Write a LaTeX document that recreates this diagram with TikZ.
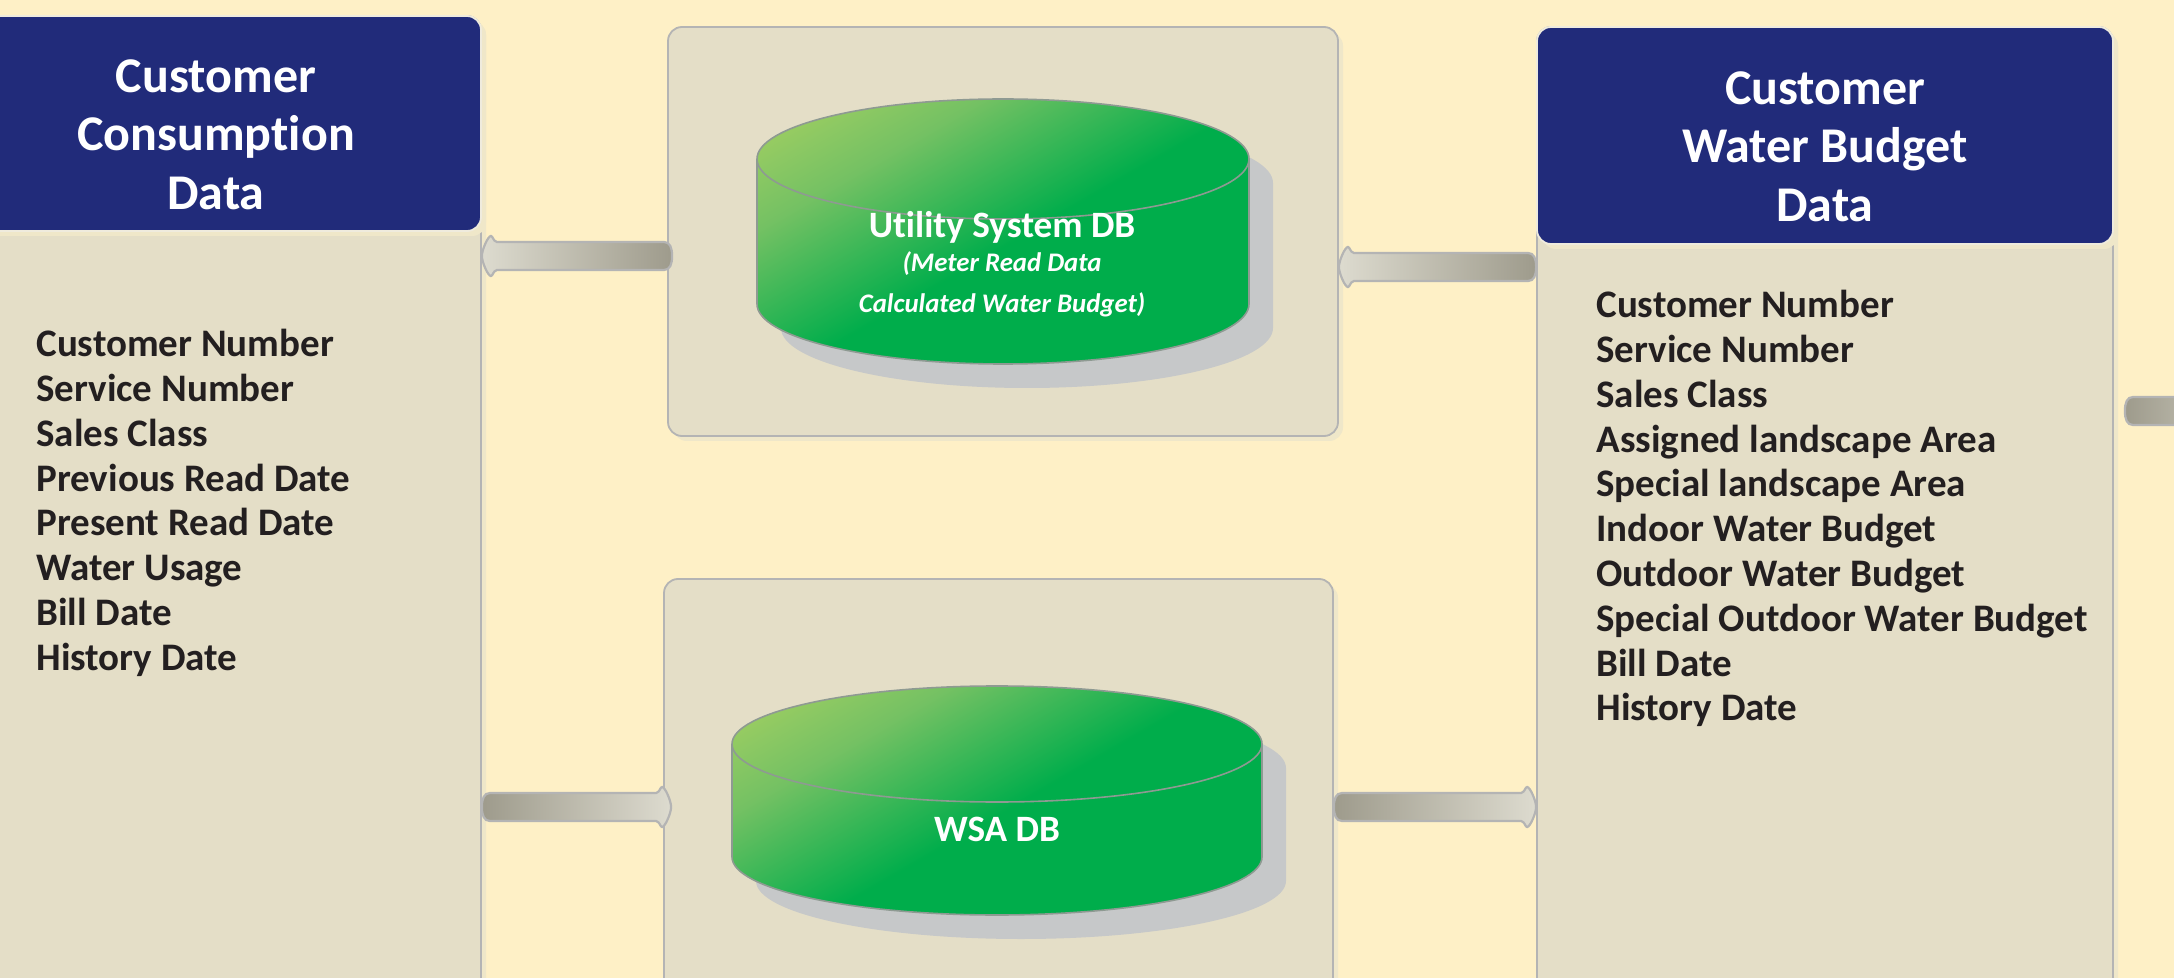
\documentclass[tikz,border=0pt]{standalone}
\usepackage{fontspec}
\setmainfont[Ligatures=NoCommon]{Carlito}
\usetikzlibrary{calc}
\usetikzlibrary{shadows}
\definecolor{pagebg}{HTML}{FEF0C6}
\definecolor{panelfill}{HTML}{E4DEC7}
\definecolor{panelhalo}{HTML}{EFE7C9}
\definecolor{edgegray}{HTML}{B4B4B4}
\definecolor{headnavy}{HTML}{212B7A}
\definecolor{fieldtext}{HTML}{231F20}
\definecolor{drumgreen}{HTML}{00AD4B}
\definecolor{drumlime}{HTML}{A9D162}
\definecolor{drummid}{HTML}{74C163}
\definecolor{drumedge}{HTML}{8E9A92}
\definecolor{drumshadow}{HTML}{C6C8C9}
\definecolor{pipedark}{HTML}{9E9B8C}
\definecolor{pipelight}{HTML}{DDDBCF}
\pgfdeclareverticalshading{drumfade}{100bp}{color(0bp)=(drumgreen); color(48bp)=(drumgreen); color(68bp)=(drummid); color(84bp)=(drumlime); color(100bp)=(drumlime)}
% fat pipe with a small flared head: [direction style]{tail}{tip}
\newcommand{\flowpipe}[3][]{%
  \draw[pipebase,#1] let \p1=#2, \p2=#3, \n1={\x2>\x1 ? 1 : -1} in
    ({\x1+\n1*4pt},{\y1+7pt}) -- ({\x2-\n1*7.5pt},{\y1+7pt})
    .. controls ({\x2-\n1*5.5pt},{\y1+7.5pt}) and ({\x2-\n1*5.5pt},{\y1+10pt}) .. ({\x2-\n1*4.5pt},{\y1+10pt})
    .. controls ({\x2-\n1*3pt},{\y1+10pt}) and ({\x2},{\y1+3pt}) .. ({\x2},{\y1})
    .. controls ({\x2},{\y1-3pt}) and ({\x2-\n1*3pt},{\y1-10pt}) .. ({\x2-\n1*4.5pt},{\y1-10pt})
    .. controls ({\x2-\n1*5.5pt},{\y1-10pt}) and ({\x2-\n1*5.5pt},{\y1-7.5pt}) .. ({\x2-\n1*7.5pt},{\y1-7pt})
    -- ({\x1+\n1*4pt},{\y1-7pt})
    .. controls ({\x1+\n1*1pt},{\y1-7pt}) and ({\x1},{\y1-4pt}) .. ({\x1},{\y1})
    .. controls ({\x1},{\y1+4pt}) and ({\x1+\n1*1pt},{\y1+7pt}) .. cycle;}
% drum: {left end of the lid}{half width}{half lid height}{side length}
\newcommand{\dbdrum}[4]{%
  \path[drum] #1 arc[start angle=180,end angle=0,x radius=#2,y radius=#3] -- ++(0,#4) arc[start angle=0,end angle=-180,x radius=#2,y radius=#3] -- cycle;
  \draw[drumline] #1 arc[start angle=180,end angle=360,x radius=#2,y radius=#3];}

\begin{document}
\begin{tikzpicture}[x=0.5pt,y=-0.5pt]
      \tikzstyle{panel}=[rectangle,rounded corners=7pt,draw=edgegray,line width=0.9pt,fill=panelfill,drop shadow={shadow xshift=2.5pt,shadow yshift=-2.5pt,fill=panelhalo,opacity=1}]
      \tikzstyle{headbox}=[panel,draw=panelfill!60!white,fill=headnavy,text=white,align=center,font=\fontsize{25}{29.2}\selectfont\bfseries]
      \tikzstyle{fieldlist}=[anchor=north west,align=left,inner sep=0pt,text=fieldtext,font=\fontsize{19.5}{22.4}\selectfont\bfseries]
      \tikzstyle{drumline}=[draw=drumedge,line width=0.8pt]
      \tikzstyle{drum}=[drumline,shading=drumfade,shading angle=30,drop shadow={shadow xshift=12pt,shadow yshift=-12pt,fill=drumshadow,opacity=1}]
      \tikzstyle{drumlabel}=[text=white,align=center,inner sep=0pt,font=\fontsize{18.6}{22}\selectfont\bfseries]
      \tikzstyle{pipebase}=[draw=edgegray,line width=1.1pt]
      \tikzstyle{pipeleft}=[left color=pipelight,right color=pipedark]
      \tikzstyle{piperight}=[left color=pipedark,right color=pipelight]
      \fill[pagebg] (0,0) rectangle (2174,978);
      \path[clip,use as bounding box] (0,0) rectangle (2174,978);

      % panels
      \node[panel,minimum width=265pt,minimum height=510pt] (consumptionbox) at (216,526) {};
      \node[panel,minimum width=288pt,minimum height=510pt] (budgetbox) at (1825,537) {};
      \node[panel,minimum width=335pt,minimum height=204.5pt] (utilitybox) at (1003,231.5) {};
      \node[panel,minimum width=334.5pt,minimum height=220pt] (wsabox) at (998.5,799) {};
      \node[headbox,minimum width=265pt,minimum height=107.5pt] (consumptionhead) at (216,123.5) {\\[-1.6pt]Customer\\Consumption\\Data};
      \node[headbox,minimum width=288pt,minimum height=108.5pt] (budgethead) at (1825,135.5) {\\[-1.6pt]Customer\\Water Budget\\Data};

      % connectors
      \coordinate (rowusage) at (0,256);
      \coordinate (rowbudget) at (0,267);
      \coordinate (rowwsa) at (0,807);
      \coordinate (rowout) at (0,411);
      \coordinate (offpage) at (2280,411);
      \flowpipe[pipeleft]{([xshift=2.5pt]utilitybox.west |- rowusage)}{(consumptionbox.east |- rowusage)}
      \flowpipe[pipeleft]{(budgetbox.west |- rowbudget)}{(utilitybox.east |- rowbudget)}
      \flowpipe[piperight]{(consumptionbox.east |- rowwsa)}{([xshift=4pt]wsabox.west |- rowwsa)}
      \flowpipe[piperight]{(wsabox.east |- rowwsa)}{(budgetbox.west |- rowwsa)}
      \flowpipe[piperight]{([xshift=5.5pt]budgetbox.east |- rowout)}{(offpage)}

      % databases
      \dbdrum{(757,159)}{123pt}{30pt}{145}
      \dbdrum{(732,744)}{132.5pt}{29pt}{113}
      \node[drumlabel] (utilitylabel) at (1002,264) {Utility System DB\\[-5.2pt]{\fontsize{13.4}{16}\selectfont\itshape (Meter Read Data}\\[-1.5pt]{\fontsize{13.4}{16}\selectfont\itshape Calculated Water Budget)}};
      \node[drumlabel] (wsalabel) at (997,829) {WSA DB};

      % field lists
      \node[fieldlist] (consumptionfields) at (36,329) {Customer Number\\Service Number\\Sales Class\\Previous Read Date\\Present Read Date\\Water Usage\\Bill Date\\History Date};
      \node[fieldlist] (budgetfields) at (1596,290) {Customer Number\\Service Number\\Sales Class\\Assigned landscape Area\\Special landscape Area\\Indoor Water Budget\\Outdoor Water Budget\\Special Outdoor Water Budget\\Bill Date\\History Date};
    \end{tikzpicture}
\end{document}
